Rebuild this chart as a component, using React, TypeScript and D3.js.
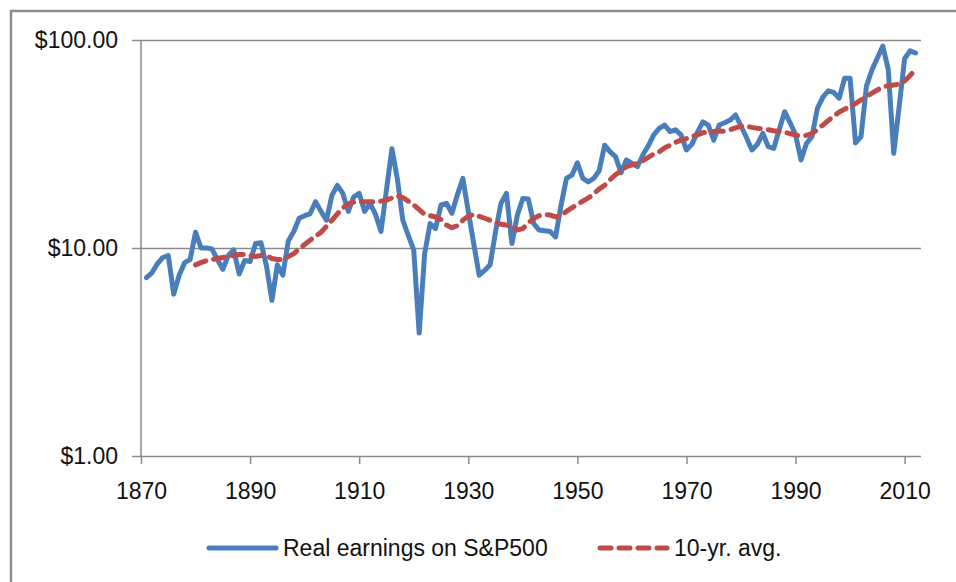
import React, { useEffect, useRef } from 'react';
import * as d3 from 'd3';

// real earnings on S&P500, one value per year starting 1871
const earningsStartYear = 1871;
const realEarnings: number[] = [
    7.2, 7.6, 8.4, 9.0, 9.2, 6.0, 7.4, 8.5, 8.8, 11.9,
    10.0, 10.0, 9.9, 8.8, 7.9, 9.2, 9.8, 7.5, 8.7, 8.6,
    10.5, 10.6, 8.2, 5.6, 8.3, 7.4, 10.8, 12.0, 13.9, 14.3,
    14.6, 16.7, 15.0, 13.6, 17.9, 20.0, 18.3, 15.0, 17.6, 18.3,
    15.0, 16.4, 14.5, 12.0, 19.0, 30.0, 21.5, 13.6, 11.5, 9.8,
    3.9, 9.4, 13.1, 12.4, 16.1, 16.4, 14.7, 18.0, 21.6, 15.0,
    10.5, 7.4, 7.8, 8.3, 12.0, 16.4, 18.3, 10.5, 14.4, 17.3,
    17.2, 13.1, 12.2, 12.1, 12.0, 11.3, 16.0, 21.6, 22.4, 25.7,
    21.6, 20.8, 21.6, 23.5, 31.2, 29.0, 27.5, 23.0, 26.5, 25.5,
    24.6, 28.0, 31.0, 35.0, 37.6, 39.0, 36.3, 37.0, 35.0, 29.6,
    31.5, 36.0, 40.4, 39.0, 33.0, 39.0, 40.0, 41.2, 43.6, 38.6,
    34.0, 29.6, 31.5, 35.6, 30.7, 30.1, 37.0, 45.2, 40.0, 35.0,
    26.5, 31.8, 34.3, 46.9, 53.0, 57.0, 56.0, 52.5, 65.5, 65.5,
    32.0, 34.3, 60.0, 71.8, 82.0, 93.5, 72.0, 28.5, 48.0, 81.5,
    88.7, 86.6,
];

// 10-yr. average, one value per year starting 1880
const avgStartYear = 1880;
const tenYearAvg: number[] = [
    8.3, 8.5, 8.7, 8.8, 8.9, 9.0, 9.1, 9.2, 9.3, 9.3,
    9.2, 9.1, 9.2, 9.2, 8.9, 8.8, 8.8, 9.1, 9.4, 9.9,
    10.4, 10.9, 11.4, 11.9, 12.7, 13.6, 14.6, 15.6, 16.3, 16.6,
    16.7, 16.7, 16.7, 16.7, 16.8, 17.0, 17.4, 17.8, 17.5, 16.8,
    16.1, 15.3, 14.5, 14.3, 14.1, 13.7, 12.9, 12.5, 12.8, 13.6,
    14.2, 14.5, 14.2, 13.9, 13.6, 13.3, 13.0, 12.9, 12.8, 12.2,
    12.4, 13.2, 13.9, 14.3, 14.5, 14.4, 14.1, 14.3, 15.0, 15.6,
    16.2, 16.8, 17.4, 18.2, 19.2, 20.0, 21.3, 22.5, 23.5, 24.6,
    25.1, 25.5, 26.3, 27.3, 28.3, 29.0, 30.3, 31.2, 32.2, 33.0,
    33.6, 34.3, 35.0, 35.8, 36.1, 36.3, 36.5, 36.4, 37.0, 37.8,
    38.5, 38.5, 38.0, 37.6, 37.4, 37.0, 36.6, 36.3, 36.0, 35.5,
    34.9, 34.6, 34.8, 35.5, 37.0, 39.0, 41.0, 43.0, 45.0, 46.5,
    48.0, 49.5, 51.5, 53.5, 55.5, 57.5, 59.5, 60.3, 60.7, 61.5,
    63.5, 67.5, 72.0,
];

const xTicks = [1870, 1890, 1910, 1930, 1950, 1970, 1990, 2010];
const yTicks = [1, 10, 100];
const seriesNames = ['Real earnings on S&P500', '10-yr. avg.'];

const blue = '#4a7ebb';
const red = '#be4b48';
const gridColor = '#8a8a8a';
const font = '"Liberation Sans", Arial, sans-serif';

type Pt = { year: number; value: number };

const App: React.FC = () => {
    const ref = useRef<SVGSVGElement>(null);

    useEffect(() => {
        if (!ref.current) return;
        const svg = d3.select(ref.current);
        svg.selectAll('*').remove();

        const W = 956, H = 582;
        const left = 141, right = 921, top = 40, bottom = 456;

        // outer chart frame
        svg.append('rect')
            .attr('x', 11).attr('y', 11)
            .attr('width', W + 20).attr('height', H + 20)
            .attr('fill', '#fff')
            .attr('stroke', '#8c8c8c')
            .attr('stroke-width', 2.5);

        const x = d3.scaleLinear().domain([1870, 2013]).range([left, right]);
        const y = d3.scaleLog().domain([1, 100]).range([bottom, top]);

        // gridlines (the $1 line doubles as the x axis)
        const yAxis = d3.axisLeft(y)
            .tickValues(yTicks)
            .tickSize(-(right - left))
            .tickFormat(d => '$' + d3.format('.2f')(d as number));
        const gy = svg.append('g')
            .attr('transform', `translate(${left},0)`)
            .call(yAxis);
        gy.select('.domain').remove();
        gy.selectAll('.tick line')
            .attr('x1', -9)
            .attr('stroke', gridColor)
            .attr('stroke-width', 1.5);
        gy.selectAll('.tick text')
            .attr('x', -23)
            .attr('font-family', font)
            .attr('font-size', 23)
            .attr('fill', '#111');

        // vertical axis line
        svg.append('line')
            .attr('x1', left).attr('x2', left)
            .attr('y1', top).attr('y2', bottom)
            .attr('stroke', gridColor)
            .attr('stroke-width', 1.5);

        const xAxis = d3.axisBottom(x)
            .tickValues(xTicks)
            .tickSize(8)
            .tickFormat(d => String(d));
        const gx = svg.append('g')
            .attr('transform', `translate(0,${bottom})`)
            .call(xAxis);
        gx.select('.domain').remove();
        gx.selectAll('.tick line')
            .attr('stroke', gridColor)
            .attr('stroke-width', 1.5);
        gx.selectAll('.tick text')
            .attr('y', 27)
            .attr('font-family', font)
            .attr('font-size', 23)
            .attr('fill', '#111');

        const earnings: Pt[] = realEarnings.map((v, i) => ({ year: earningsStartYear + i, value: v }));
        const avg: Pt[] = tenYearAvg.map((v, i) => ({ year: avgStartYear + i, value: v }));

        const line = d3.line<Pt>()
            .x(d => x(d.year))
            .y(d => y(d.value));

        svg.append('path')
            .datum(earnings)
            .attr('d', line)
            .attr('fill', 'none')
            .attr('stroke', blue)
            .attr('stroke-width', 5)
            .attr('stroke-linejoin', 'round')
            .attr('stroke-linecap', 'round');

        svg.append('path')
            .datum(avg)
            .attr('d', line)
            .attr('fill', 'none')
            .attr('stroke', red)
            .attr('stroke-width', 5)
            .attr('stroke-dasharray', '11,8')
            .attr('stroke-linecap', 'round');

        // legend
        const ly = 548;
        const legend = svg.append('g').attr('font-family', font).attr('font-size', 23).attr('fill', '#111');
        legend.append('line')
            .attr('x1', 209).attr('x2', 276).attr('y1', ly).attr('y2', ly)
            .attr('stroke', blue).attr('stroke-width', 5).attr('stroke-linecap', 'round');
        legend.append('text')
            .attr('x', 283).attr('y', ly).attr('dy', '0.35em')
            .text(seriesNames[0]);
        legend.append('line')
            .attr('x1', 600).attr('x2', 667).attr('y1', ly).attr('y2', ly)
            .attr('stroke', red).attr('stroke-width', 5)
            .attr('stroke-dasharray', '11,8').attr('stroke-linecap', 'round');
        legend.append('text')
            .attr('x', 674).attr('y', ly).attr('dy', '0.35em')
            .text(seriesNames[1]);
    }, []);

    return (
        <svg
            ref={ref}
            width={956}
            height={582}
            style={{ position: 'absolute', left: 0, top: 0, background: '#fff' }}
        />
    );
};

export default App;
